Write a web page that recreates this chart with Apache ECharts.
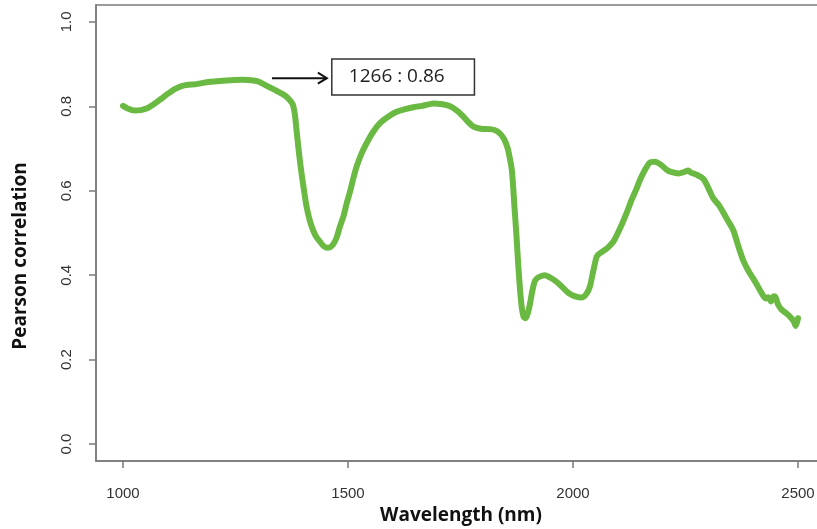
<!DOCTYPE html>
<html>
<head>
<meta charset="utf-8">
<script src="https://cdn.jsdelivr.net/npm/echarts@6/dist/echarts.min.js"></script>
<style>
html,body{margin:0;padding:0;background:#fff;overflow:hidden;}
#chart{width:817px;height:529px;}
</style>
</head>
<body>
<div id="chart"></div>
<script>
// Data
const wavelengths = [1000,1010,1025,1040,1055,1070,1085,1100,1115,1130,1145,1160,1175,1195,1215,1240,1266,1285,1300,1315,1335,1355,1367,1377,1382,1386,1390,1395,1401,1408,1415,1423,1430,1438,1445,1453,1460,1467,1475,1482,1490,1497,1505,1512,1519,1530,1541,1555,1571,1590,1608,1625,1645,1665,1690,1710,1727,1742,1756,1768,1779,1795,1816,1830,1840,1848,1855,1860,1864,1867,1870,1874,1878,1882,1886,1890,1894,1899,1904,1910,1916,1925,1938,1950,1964,1978,1990,2005,2019,2030,2038,2045,2053,2060,2067,2078,2090,2105,2119,2130,2140,2149,2160,2171,2182,2195,2208,2220,2235,2248,2256,2262,2275,2290,2300,2312,2325,2341,2356,2367,2378,2390,2400,2410,2419,2428,2434,2440,2446,2450,2456,2464,2474,2482,2490,2495,2500];
const correlation = [0.801,0.795,0.790,0.791,0.796,0.806,0.818,0.830,0.841,0.848,0.851,0.852,0.855,0.858,0.860,0.862,0.863,0.862,0.859,0.851,0.840,0.829,0.819,0.805,0.780,0.740,0.700,0.655,0.610,0.562,0.530,0.505,0.490,0.479,0.470,0.465,0.466,0.473,0.490,0.515,0.540,0.570,0.600,0.630,0.657,0.688,0.712,0.738,0.760,0.776,0.787,0.793,0.798,0.801,0.807,0.805,0.800,0.790,0.776,0.762,0.752,0.747,0.746,0.742,0.733,0.720,0.700,0.675,0.650,0.610,0.560,0.500,0.430,0.370,0.325,0.302,0.298,0.308,0.330,0.365,0.388,0.396,0.400,0.394,0.384,0.370,0.358,0.350,0.347,0.356,0.375,0.410,0.445,0.452,0.457,0.466,0.480,0.512,0.547,0.578,0.602,0.626,0.650,0.667,0.669,0.662,0.650,0.644,0.641,0.645,0.648,0.643,0.638,0.628,0.608,0.582,0.565,0.535,0.507,0.470,0.436,0.410,0.393,0.375,0.358,0.345,0.348,0.338,0.350,0.348,0.330,0.318,0.310,0.302,0.292,0.280,0.298];
const xTicks = [1000, 1500, 2000, 2500];
const yTicks = [0.0, 0.2, 0.4, 0.6, 0.8, 1.0];
const xTitle = 'Wavelength (nm)';
const yTitle = 'Pearson correlation';
const annotationText = '1266 : 0.86';
// annotation anchors in data units
const arrowFrom = [1331, 0.8666];
const arrowTo = [1453, 0.8666];
const boxTopLeft = [1464, 0.912];
const boxBottomRight = [1781, 0.827];

const chart = echarts.init(document.getElementById('chart'), null, {renderer: 'canvas'});
const axisGray = '#7a7a7a';
const labelFont = "'Liberation Sans', Arial, sans-serif";
const titleFont = "'Open Sans', 'Liberation Sans', sans-serif";

chart.setOption({
  animation: false,
  backgroundColor: '#ffffff',
  grid: {left: 96, width: 729, top: 5, height: 456, outerBoundsMode: 'none', containLabel: false,
    show: true, borderColor: axisGray, borderWidth: 1.5, backgroundColor: 'transparent'},
  xAxis: {
    type: 'value', min: 940, max: 2560,
    axisLine: {show: true, onZero: false, lineStyle: {color: axisGray, width: 1.5}},
    axisTick: {show: true, length: 7, inside: false, lineStyle: {color: axisGray, width: 1.5},
      customValues: xTicks},
    axisLabel: {show: true, color: '#333', fontFamily: labelFont, fontSize: 15, margin: 25,
      customValues: xTicks, formatter: v => String(v)},
    splitLine: {show: false}
  },
  yAxis: {
    type: 'value', min: -0.04, max: 1.04,
    axisLine: {show: true, onZero: false, lineStyle: {color: axisGray, width: 1.5}},
    axisTick: {show: true, length: 7, lineStyle: {color: axisGray, width: 1.5}, customValues: yTicks},
    axisLabel: {show: true, color: '#333', fontFamily: labelFont, fontSize: 15, margin: 22, rotate: 90,
      customValues: yTicks, formatter: v => v.toFixed(1)},
    splitLine: {show: false}
  },
  series: [{
    type: 'line',
    data: wavelengths.map((w, i) => [w, correlation[i]]),
    showSymbol: false,
    smooth: 0.25,
    lineStyle: {color: '#6ab942', width: 6, cap: 'round', join: 'round'},
    itemStyle: {color: '#6ab942'},
    z: 3
  }]
});

function drawGraphics() {
  const p = v => chart.convertToPixel({gridIndex: 0}, v);
  const a0 = p(arrowFrom), a1 = p(arrowTo);
  const b0 = p(boxTopLeft), b1 = p(boxBottomRight);
  chart.setOption({
    graphic: [
      {type: 'line', shape: {x1: a0[0], y1: a0[1], x2: a1[0], y2: a1[1]}, style: {stroke: '#111', lineWidth: 2}},
      {type: 'polyline', shape: {points: [[a1[0] - 9, a1[1] - 5.5], [a1[0], a1[1]], [a1[0] - 9, a1[1] + 5.5]]}, style: {stroke: '#111', lineWidth: 2, fill: null}},
      {type: 'rect', shape: {x: b0[0], y: b0[1], width: b1[0] - b0[0], height: b1[1] - b0[1]}, style: {stroke: '#333', lineWidth: 1.5, fill: '#fff'}},
      {type: 'text', x: b0[0] + 17, y: (b0[1] + b1[1]) / 2, style: {text: annotationText, fontFamily: titleFont, fontSize: 19, fill: '#222', verticalAlign: 'middle', align: 'left'}},
      {type: 'text', x: 461, y: 516, style: {text: xTitle, fontFamily: titleFont, fontSize: 19, fontWeight: 'bold', fill: '#111', align: 'center', verticalAlign: 'middle'}},
      {type: 'text', x: 21, y: 256, rotation: Math.PI / 2, style: {text: yTitle, fontFamily: titleFont, fontSize: 19, fontWeight: 'bold', fill: '#111', align: 'center', verticalAlign: 'middle'}}
    ]
  });
}
drawGraphics();
</script>
</body>
</html>
